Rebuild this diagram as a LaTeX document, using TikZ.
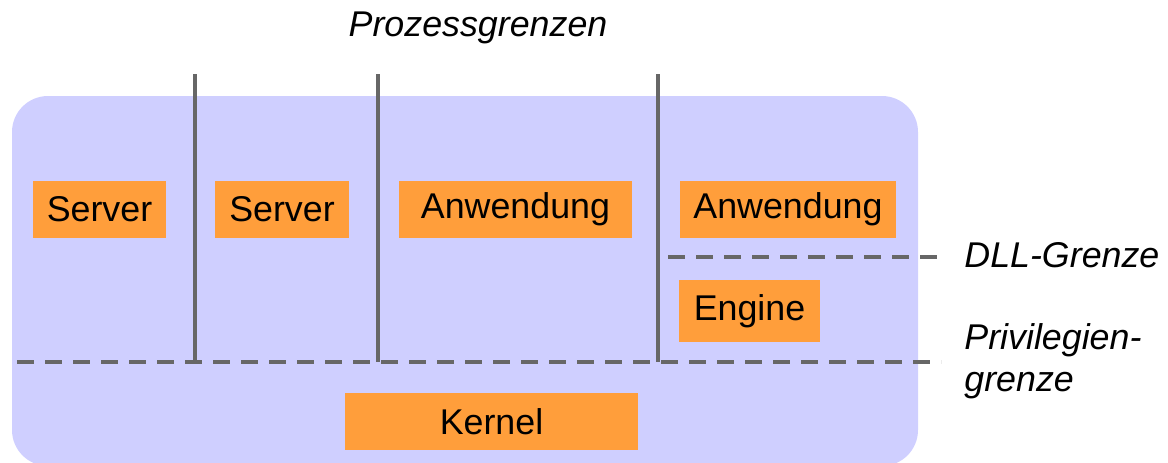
\documentclass[tikz,border=0pt]{standalone}
\usepackage{fontspec}
\setmainfont{Liberation Sans}
\definecolor{pane}{HTML}{CFCFFF}
\definecolor{block}{HTML}{FF9E3B}
\definecolor{rule}{HTML}{676767}
\begin{document}
\begin{tikzpicture}[x=0.5pt,y=-0.5pt,
  every node/.style={font=\fontsize{17.9pt}{21pt}\selectfont, inner sep=0pt},
  block/.style={fill=block, text=black},
  bound/.style={draw=rule, line width=2pt},
  softbound/.style={bound, dash pattern=on 8.5pt off 5.5pt},
  caption/.style={font=\fontsize{17.9pt}{21pt}\selectfont\itshape, text=black}]
\useasboundingbox (0,0) rectangle (1168,462);
\clip (0,0) rectangle (1168,462);

% address space background
\fill[pane, rounded corners=18pt] (12,96) rectangle (918,466);

% components
\node[block, minimum width=66.5pt, minimum height=28.5pt] (srv1) at (99.5,209.5) {Server};
\node[block, minimum width=67pt, minimum height=28.5pt] (srv2) at (282,209.5) {Server};
\node[block, minimum width=116.5pt, minimum height=28.5pt] (app1) at (515.5,209.5) {Anwendung};
\node[block, minimum width=108pt, minimum height=28.5pt] (app2) at (788,209.5) {Anwendung};
\node[block, minimum width=70.5pt, minimum height=31pt] (eng) at (749.5,311) {Engine};
\node[block, minimum width=146.5pt, minimum height=28.5pt] (krn) at (491.5,421.5) {Kernel};

% boundary end points
\coordinate (p1t) at (195,74);  \coordinate (p1b) at (195,362);
\coordinate (p2t) at (378,74);  \coordinate (p2b) at (378,362);
\coordinate (p3t) at (658,74);  \coordinate (p3b) at (658,362);
\coordinate (privL) at (17,362); \coordinate (privR) at (941,362);
\coordinate (dllL) at (668,257);  \coordinate (dllR) at (941,257);

% privilege and DLL boundaries
\draw[softbound] (privL) -- (privR);
\draw[softbound] (dllL) -- (dllR);

% process boundaries
\draw[bound] (p1t) -- (p1b);
\draw[bound] (p2t) -- (p2b);
\draw[bound] (p3t) -- (p3b);

% captions
\node[caption] (proc) at (478,28) {Prozessgrenzen};
\node[caption, anchor=west] (dll) at (964,255) {DLL-Grenze};
\node[caption, anchor=west, align=left] (priv) at (964,361) {Privilegien-\\grenze};
\end{tikzpicture}
\end{document}
